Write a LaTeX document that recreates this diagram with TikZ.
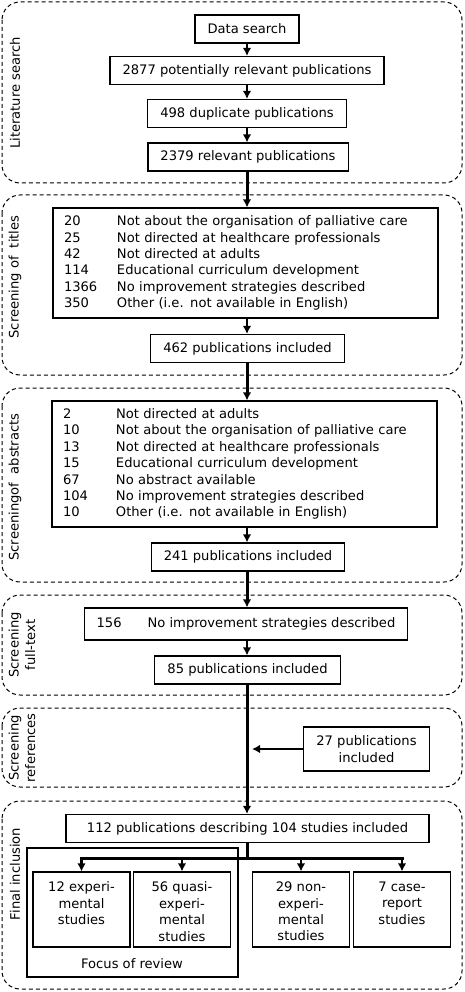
\documentclass[tikz,border=0pt]{standalone}
\usepackage{fontspec}
\setmainfont{DejaVu Sans}
\usetikzlibrary{arrows.meta}

\begin{document}
\begin{tikzpicture}[x=1pt,y=-1pt,
        >={Latex[length=8pt,width=8.5pt]},
        every node/.style={font=\fontsize{13.1}{16.4}\selectfont},
        box/.style={draw,line width=1.1pt,inner xsep=12.5pt,inner ysep=0pt,minimum height=28pt,align=center},
        listbox/.style={draw,line width=1.1pt,inner xsep=11pt,inner ysep=0pt,text width=363pt,align=left},
        studybox/.style={draw,line width=1.1pt,inner xsep=0pt,inner ysep=10pt},
        stage/.style={draw,dash pattern=on 4pt off 3pt,rounded corners=18pt,line width=1pt},
        stagelabel/.style={rotate=90,align=center},
        flow/.style={->,line width=2.2pt},
        mainflow/.style={->,line width=3pt}
    ]
    \useasboundingbox (0,0) rectangle (464,992);
    \draw[stage] (2,2) rectangle (462,183);
    \draw[stage] (2,195) rectangle (462,375);
    \draw[stage] (2,388) rectangle (462,582);
    \draw[stage] (2,595) rectangle (462,695);
    \draw[stage] (2,708) rectangle (462,787);
    \draw[stage] (2,801) rectangle (462,989);
    \node[stagelabel] (litlabel) at (15,93) {Literature search};
    \node[stagelabel] (titlelabel) at (15,277) {Screening of\ \ titles};
    \node[stagelabel] (abslabel) at (15,487) {Screeningof\ \ abstracts};
    \node[stagelabel] (ftlabel) at (22,645) {Screening\\full-text};
    \node[stagelabel] (reflabel) at (22,748) {Screening\\references};
    \node[stagelabel] (finlabel) at (15,874) {Final inclusion};

    \node[box] (search) at (247,29) {Data search};
    \node[box] (found) at (247,70.5) {2877 potentially relevant publications};
    \node[box] (dup) at (247,113.5) {498 duplicate publications};
    \node[box] (rel) at (248,157) {2379 relevant publications};
    \node[listbox,minimum height=110pt] (titles) at (245.5,263) {%
        \makebox[53pt][l]{20}Not about the organisation of palliative care\\
        \makebox[53pt][l]{25}Not directed at healthcare professionals\\
        \makebox[53pt][l]{42}Not directed at adults\\
        \makebox[53pt][l]{114}Educational curriculum development\\
        \makebox[53pt][l]{1366}No improvement strategies described\\
        \makebox[53pt][l]{350}Other (i.e. not available in English)};
    \node[box] (inctitles) at (247.5,348.5) {462 publications included};
    \node[listbox,minimum height=126pt] (abstracts) at (244.5,464) {%
        \makebox[53pt][l]{2}Not directed at adults\\
        \makebox[53pt][l]{10}Not about the organisation of palliative care\\
        \makebox[53pt][l]{13}Not directed at healthcare professionals\\
        \makebox[53pt][l]{15}Educational curriculum development\\
        \makebox[53pt][l]{67}No abstract available\\
        \makebox[53pt][l]{104}No improvement strategies described\\
        \makebox[53pt][l]{10}Other (i.e. not available in English)};
    \node[box] (incabs) at (248,557) {241 publications included};
    \node[box,minimum height=32pt] (fulltext) at (246,624) {\makebox[51pt][l]{156}No improvement strategies described};
    \node[box] (incft) at (247.5,670) {85 publications included};
    \node[box,minimum height=44pt] (refs) at (366.5,749) {27 publications\\included};
    \node[box,minimum width=363pt] (final) at (247.5,828.5) {112 publications describing 104 studies included};

    \draw[line width=1.1pt] (27,848) rectangle (238,977);
    \node (focus) at (132,964) {Focus of review};
    \node[studybox] (exp) at (81.5,909.5) {\parbox[c][55pt][t]{97pt}{\centering 12 experi-\\mental\\studies}};
    \node[studybox] (quasi) at (182,909.5) {\parbox[c][55pt][t]{97pt}{\centering 56 quasi-\\experi-\\mental\\studies}};
    \node[studybox] (nonexp) at (301,909.5) {\parbox[c][55pt][t]{97pt}{\centering 29 non-\\experi-\\mental\\studies}};
    \node[studybox] (case) at (402,909.5) {\parbox[c][55pt][t]{97pt}{\centering 7 case-\\report\\studies}};

    \draw[flow] (search) -- (search |- found.north);
    \draw[flow] (found) -- (found |- dup.north);
    \draw[flow] (dup) -- (dup |- rel.north);
    \draw[mainflow] (search |- rel.south) -- (search |- titles.north);
    \draw[flow] (search |- titles.south) -- (search |- inctitles.north);
    \draw[mainflow] (search |- inctitles.south) -- (search |- abstracts.north);
    \draw[flow] (search |- abstracts.south) -- (search |- incabs.north);
    \draw[mainflow] (search |- incabs.south) -- (search |- fulltext.north);
    \draw[flow] (search |- fulltext.south) -- (search |- incft.north);
    \draw[mainflow] (search |- incft.south) -- (search |- final.north);
    \draw[flow,shorten >=5pt] (refs) -- (search |- refs);
    \path (search |- final.south) ++(0,15) coordinate (split);
    \draw[line width=3pt] (search |- final.south) -- (split);
    \draw[line width=3pt,line cap=rect] (exp.north |- split) -- (case.north |- split);
    \foreach \s in {exp,quasi,nonexp,case}
        \draw[flow] (\s.north |- split) -- (\s.north);
\end{tikzpicture}
\end{document}
